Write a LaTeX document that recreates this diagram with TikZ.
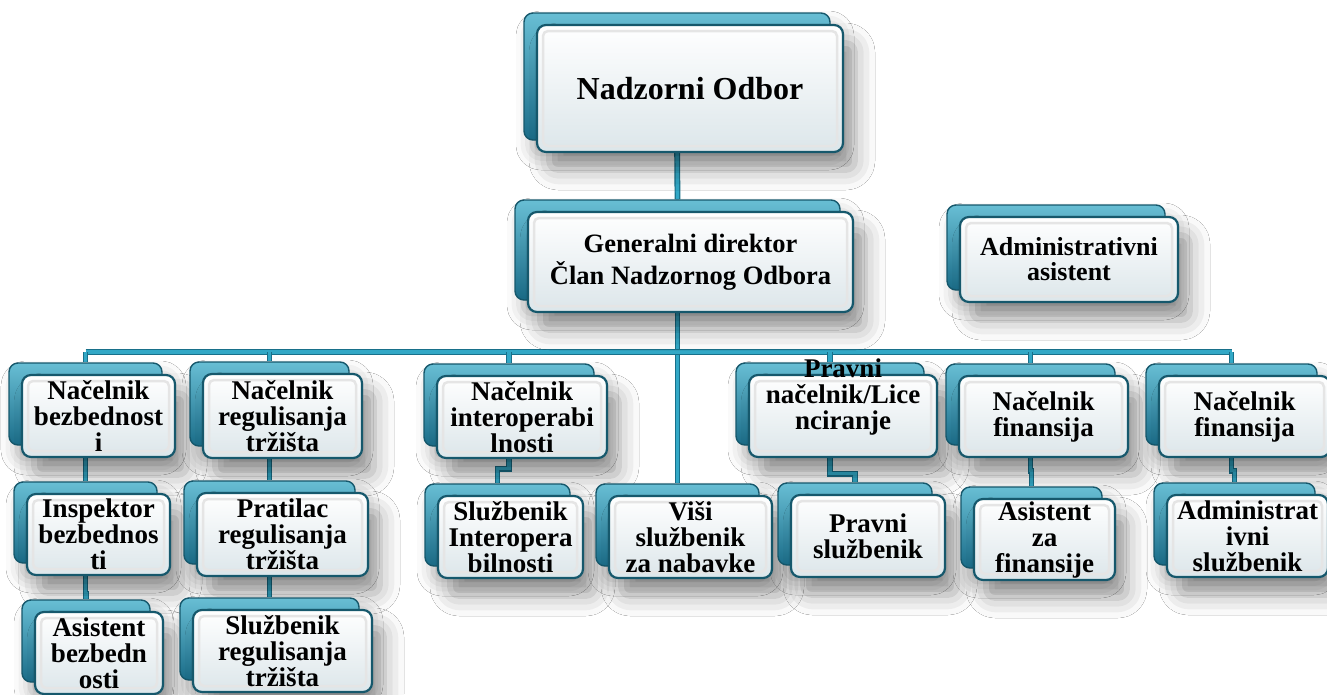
\documentclass[tikz,border=0pt]{standalone}
\usepackage{fontspec}
\setmainfont{Liberation Serif}
\usetikzlibrary{positioning, backgrounds, shadows.blur}

\definecolor{tealdark}{RGB}{22,88,108}
\definecolor{backhi}{RGB}{104,190,212}
\definecolor{backlo}{RGB}{26,108,136}
\definecolor{frontlo}{RGB}{220,230,234}
\definecolor{linkdark}{RGB}{24,112,138}
\definecolor{linklight}{RGB}{50,168,198}

\begin{document}
\begin{tikzpicture}[
        x=1pt,
        y=-1pt,
        back/.style={draw=tealdark,line width=1.4pt,rounded corners=9pt,inner sep=0pt,
            top color=backhi,bottom color=backlo,
            blur shadow={shadow xshift=8pt,shadow yshift=-14pt,shadow blur radius=16pt,shadow opacity=30}},
        front/.style={draw=tealdark,line width=2.2pt,rounded corners=9pt,inner sep=0pt,
            top color=white,bottom color=frontlo,align=center,
            font=\fontsize{27}{26}\selectfont\bfseries,
            blur shadow={shadow xshift=12pt,shadow yshift=-18pt,shadow blur radius=20pt,shadow opacity=38},
            path picture={\draw[black!10,line width=2.5pt,rounded corners=5pt]
                ([shift={(6pt,-6pt)}]path picture bounding box.north west) rectangle
                ([shift={(-6pt,6pt)}]path picture bounding box.south east);}},
        txt/.style={align=center,inner sep=0pt,font=\fontsize{27}{26}\selectfont\bfseries},
        link/.style={draw=linkdark,double=linklight,double distance=3.4pt,line width=1.2pt}
    ]
    \useasboundingbox (0,0) rectangle (1327,694);

    % top levels
    \node[back,minimum width=306pt,minimum height=127pt] (top-b) at (677,76.5) {};
    \node[front,minimum width=306pt,minimum height=127pt,font=\fontsize{32}{34}\selectfont\bfseries] (top) at (690,88.5) {Nadzorni Odbor};
    \node[back,minimum width=325pt,minimum height=100pt] (gen-b) at (677.5,250) {};
    \node[front,minimum width=325pt,minimum height=100pt,font=\fontsize{26.5}{32}\selectfont\bfseries] (gen) at (690.5,262) {Generalni direktor\\Član Nadzornog Odbora};
    \node[back,minimum width=218pt,minimum height=85pt] (adm-b) at (1056,247.5) {};
    \node[front,minimum width=218pt,minimum height=85pt,font=\fontsize{26}{25}\selectfont\bfseries] (adm) at (1069,259.5) {Administrativni\\asistent};

    % nacelnici
    \node[back,minimum width=153pt,minimum height=82pt] (b1-b) at (85.5,404) {};
    \node[front,minimum width=153pt,minimum height=82pt] (b1) at (98.5,416) {Načelnik\\bezbednost\\i};
    \node[back,minimum width=159pt,minimum height=84pt] (b2-b) at (269.5,404) {};
    \node[front,minimum width=159pt,minimum height=84pt] (b2) at (282.5,416) {Načelnik\\regulisanja\\tržišta};
    \node[back,minimum width=170pt,minimum height=82pt] (b3-b) at (509,405) {};
    \node[front,minimum width=170pt,minimum height=82pt] (b3) at (522,417) {Načelnik\\interoperabi\\lnosti};
    \node[back,minimum width=188pt,minimum height=82pt] (b4-b) at (830,404) {};
    \node[front,minimum width=188pt,minimum height=82pt] (b4) at (843,416) {};
    \node[txt] (b4-t) at ([yshift=19pt]b4.center) {Pravni\\načelnik/Lice\\nciranje};
    \node[back,minimum width=169pt,minimum height=81pt] (b5-b) at (1030.5,404.5) {};
    \node[front,minimum width=169pt,minimum height=81pt] (b5) at (1043.5,416.5) {Načelnik\\finansija};
    \node[back,minimum width=171pt,minimum height=81pt] (b6-b) at (1231.5,404.5) {};
    \node[front,minimum width=171pt,minimum height=81pt] (b6) at (1244.5,416.5) {Načelnik\\finansija};

    % sluzbenici
    \node[back,minimum width=143pt,minimum height=81pt] (insp-b) at (85.5,522.5) {};
    \node[front,minimum width=143pt,minimum height=81pt] (insp) at (98.5,534.5) {Inspektor\\bezbednos\\ti};
    \node[back,minimum width=171pt,minimum height=83pt] (prat-b) at (269.5,522.5) {};
    \node[front,minimum width=171pt,minimum height=83pt] (prat) at (282.5,534.5) {Pratilac\\regulisanja\\tržišta};
    \node[back,minimum width=145pt,minimum height=82pt] (sint-b) at (497.5,525) {};
    \node[front,minimum width=145pt,minimum height=82pt] (sint) at (510.5,537) {Službenik\\Interopera\\bilnosti};
    \node[back,minimum width=163pt,minimum height=82pt] (visi-b) at (677.5,525) {};
    \node[front,minimum width=163pt,minimum height=82pt] (visi) at (690.5,537) {Viši\\službenik\\za nabavke};
    \node[back,minimum width=154pt,minimum height=82pt] (prsl-b) at (855,524) {};
    \node[front,minimum width=154pt,minimum height=82pt] (prsl) at (868,536) {Pravni\\službenik};
    \node[back,minimum width=141pt,minimum height=81pt] (asfin-b) at (1031.5,527.5) {};
    \node[front,minimum width=141pt,minimum height=81pt] (asfin) at (1044.5,539.5) {Asistent\\za\\finansije};
    \node[back,minimum width=161pt,minimum height=82pt] (admsl-b) at (1234.5,524) {};
    \node[front,minimum width=161pt,minimum height=82pt] (admsl) at (1247.5,536) {Administrat\\ivni\\službenik};

    % asistenti
    \node[back,minimum width=128pt,minimum height=82pt] (asbez-b) at (86,641) {};
    \node[front,minimum width=128pt,minimum height=82pt] (asbez) at (99,653) {Asistent\\bezbedn\\osti};
    \node[back,minimum width=179pt,minimum height=82pt] (slreg-b) at (269.5,639) {};
    \node[front,minimum width=179pt,minimum height=82pt] (slreg) at (282.5,651) {Službenik\\regulisanja\\tržišta};

    \begin{scope}[on background layer]
        \fill[white] (0,0) rectangle (1327,694);
        \coordinate (bus) at (676,352);
        \draw[link] (top-b.south) -- (gen-b.north);
        \draw[link] (gen-b.south) -- (visi-b.north);
        \draw[link] (b1-b.north |- bus) -- (b6-b.north |- bus);
        \foreach \n in {b1,b2,b3,b4,b5,b6}
            \draw[link] (\n-b.north |- bus) -- (\n-b.north);
        \draw[link] (b1-b.south) -- (insp-b.north);
        \draw[link] (insp-b.south) -- ++(0,30) -| (asbez-b.north);
        \draw[link] (b2-b.south) -- (prat-b.north);
        \draw[link] (prat-b.south) -- (slreg-b.north);
        \draw[link] (b3-b.south) -- ++(0,22) -| (sint-b.north);
        \draw[link] (b4-b.south) -- ++(0,28) -| (prsl-b.north);
        \draw[link] (b5-b.south) -- ++(0,25) -| (asfin-b.north);
        \draw[link] (b6-b.south) -- ++(0,25) -| (admsl-b.north);
    \end{scope}
\end{tikzpicture}
\end{document}
